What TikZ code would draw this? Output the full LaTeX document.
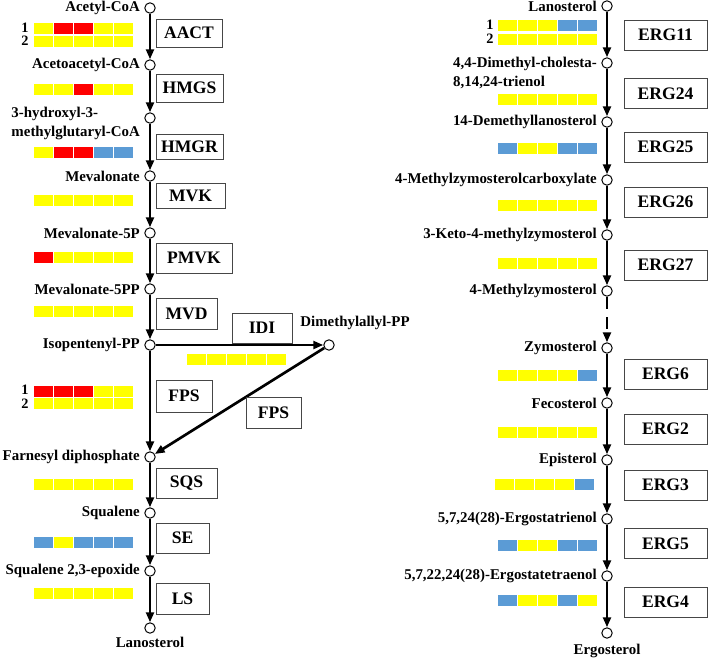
\documentclass[tikz,border=0pt]{standalone}
\usepackage{fontspec}
\setmainfont{Liberation Serif}
\usetikzlibrary{arrows.meta, positioning}
\definecolor{cellyellow}{RGB}{255,255,0}
\definecolor{cellred}{RGB}{255,0,0}
\definecolor{cellblue}{RGB}{91,155,213}
\colorlet{yl}{cellyellow}
\colorlet{rd}{cellred}
\colorlet{bu}{cellblue}
\definecolor{boxgray}{RGB}{70,70,70}

% one row of five expression cells: x, top y, colours
\newcommand{\exprow}[3]{%
  \foreach \c [count=\i] in {#3}
    \filldraw[fill=\c, draw=white, line width=0.4pt] ({#1+(\i-1)*20},#2) rectangle ++(20,12);
}

\begin{document}
\begin{tikzpicture}[
    x=0.025cm, y=-0.025cm,
    metab/.style={circle, draw=black, fill=white, line width=0.7pt, minimum size=0.26cm, inner sep=0pt},
    mlabel/.style={inner sep=1pt, font=\fontsize{10.6}{13.5}\selectfont\bfseries},
    rowno/.style={inner sep=0pt, font=\fontsize{10.2}{12}\selectfont\bfseries},
    enzyme/.style={rectangle, draw=boxgray, line width=0.7pt, fill=white, inner sep=0pt, font=\fontsize{12.5}{15}\selectfont\bfseries},
    ergbox/.style={enzyme, minimum width=2.075cm, minimum height=0.75cm},
    flow/.style={-{Triangle[length=7pt, width=5.5pt]}, line width=1.9pt},
    node distance=2pt
  ]
  \useasboundingbox (0,0) rectangle (709,657);

  % Mevalonate pathway: metabolites
  \node[metab] (acetyl) at (150,8) {};
  \node[metab] (acetoacetyl) at (150,65) {};
  \node[metab] (hmg) at (150,118) {};
  \node[metab] (meva) at (150,176) {};
  \node[metab] (meva5p) at (150,233) {};
  \node[metab] (meva5pp) at (150,289) {};
  \node[metab] (ipp) at (150,345) {};
  \node[metab] (dmapp) at (329,345) {};
  \node[metab] (fpp) at (150,457) {};
  \node[metab] (squalene) at (150,513) {};
  \node[metab] (epoxide) at (150,571) {};
  \node[metab] (lanoL) at (150,628) {};

  \node[mlabel, left=of acetyl] {Acetyl-CoA};
  \node[mlabel, left=of acetoacetyl] {Acetoacetyl-CoA};
  \node[mlabel, align=left, left=of hmg, yshift=-0.13cm] {3-hydroxyl-3-\\methylglutaryl-CoA};
  \node[mlabel, left=of meva] {Mevalonate};
  \node[mlabel, left=of meva5p] {Mevalonate-5P};
  \node[mlabel, left=of meva5pp] {Mevalonate-5PP};
  \node[mlabel, left=of ipp] {Isopentenyl-PP};
  \node[mlabel] (dmappl) at (355,323) {Dimethylallyl-PP};
  \node[mlabel, left=of fpp] {Farnesyl diphosphate};
  \node[mlabel, left=of squalene] {Squalene};
  \node[mlabel, left=of epoxide] {Squalene 2,3-epoxide};
  \node[mlabel, below=1pt of lanoL] {Lanosterol};

  % Mevalonate pathway: reactions
  \draw[flow] (acetyl) -- (acetoacetyl);
  \draw[flow] (acetoacetyl) -- (hmg);
  \draw[flow] (hmg) -- (meva);
  \draw[flow] (meva) -- (meva5p);
  \draw[flow] (meva5p) -- (meva5pp);
  \draw[flow] (meva5pp) -- (ipp);
  \draw[flow] (ipp) -- (dmapp);
  \draw[flow] (ipp) -- (fpp);
  \draw[flow] (dmapp) -- (fpp);
  \draw[flow] (fpp) -- (squalene);
  \draw[flow] (squalene) -- (epoxide);
  \draw[flow] (epoxide) -- (lanoL);

  % Mevalonate pathway: enzymes
  \node[enzyme, minimum width=1.65cm, minimum height=0.7cm] (aact) at (189,33) {AACT};
  \node[enzyme, minimum width=1.675cm, minimum height=0.7cm] (hmgs) at (189.5,88) {HMGS};
  \node[enzyme, minimum width=1.675cm, minimum height=0.625cm] (hmgr) at (189.5,147) {HMGR};
  \node[enzyme, minimum width=1.725cm, minimum height=0.625cm] (mvk) at (190.5,196) {MVK};
  \node[enzyme, minimum width=1.9cm, minimum height=0.75cm] (pmvk) at (194,258) {PMVK};
  \node[enzyme, minimum width=1.525cm, minimum height=0.775cm] (mvd) at (186.5,314) {MVD};
  \node[enzyme, minimum width=1.5cm, minimum height=0.75cm] (idi) at (262,328) {IDI};
  \node[enzyme, minimum width=1.4cm, minimum height=0.8cm] (fpsA) at (184,396) {FPS};
  \node[enzyme, minimum width=1.375cm, minimum height=0.775cm] (fpsB) at (273.5,412.5) {FPS};
  \node[enzyme, minimum width=1.525cm, minimum height=0.75cm] (sqs) at (186.5,483) {SQS};
  \node[enzyme, minimum width=1.325cm, minimum height=0.75cm] (se) at (182.5,538) {SE};
  \node[enzyme, minimum width=1.325cm, minimum height=0.775cm] (ls) at (182.5,598.5) {LS};

  % Mevalonate pathway: expression cells
  \exprow{33}{22}{yl,rd,rd,yl,yl}
  \exprow{33}{35}{yl,yl,yl,yl,yl}
  \node[rowno] at (25,28) {1};
  \node[rowno] at (25,41) {2};
  \exprow{33}{83}{yl,yl,rd,yl,yl}
  \exprow{33}{146}{yl,rd,rd,bu,bu}
  \exprow{33}{194}{yl,yl,yl,yl,yl}
  \exprow{33}{251}{rd,yl,yl,yl,yl}
  \exprow{33}{305}{yl,yl,yl,yl,yl}
  \exprow{186}{353}{yl,yl,yl,yl,yl}
  \exprow{33}{385}{rd,rd,rd,yl,yl}
  \exprow{33}{397}{yl,yl,yl,yl,yl}
  \node[rowno] at (25,390) {1};
  \node[rowno] at (25,404) {2};
  \exprow{33}{478}{yl,yl,yl,yl,yl}
  \exprow{33}{536}{bu,yl,bu,bu,bu}
  \exprow{33}{587}{yl,yl,yl,yl,yl}

  % Ergosterol pathway: metabolites
  \node[metab] (lanoR) at (607,6) {};
  \node[metab] (dimeth) at (607,63) {};
  \node[metab] (demeth) at (607,122) {};
  \node[metab] (carbox) at (607,180) {};
  \node[metab] (keto) at (607,235) {};
  \node[metab] (methzym) at (607,291) {};
  \node[metab] (zymo) at (607,348) {};
  \node[metab] (feco) at (607,403) {};
  \node[metab] (epi) at (607,460) {};
  \node[metab] (ergtri) at (607,519) {};
  \node[metab] (ergtet) at (607,576) {};
  \node[metab] (ergo) at (607,633) {};

  \node[mlabel, left=of lanoR] {Lanosterol};
  \node[mlabel, align=left, left=of dimeth, yshift=-0.25cm] {4,4-Dimethyl-cholesta-\\8,14,24-trienol};
  \node[mlabel, left=of demeth] {14-Demethyllanosterol};
  \node[mlabel, left=of carbox] {4-Methylzymosterolcarboxylate};
  \node[mlabel, left=of keto] {3-Keto-4-methylzymosterol};
  \node[mlabel, left=of methzym] {4-Methylzymosterol};
  \node[mlabel, left=of zymo] {Zymosterol};
  \node[mlabel, left=of feco] {Fecosterol};
  \node[mlabel, left=of epi] {Episterol};
  \node[mlabel, left=of ergtri] {5,7,24(28)-Ergostatrienol};
  \node[mlabel, left=of ergtet] {5,7,22,24(28)-Ergostatetraenol};
  \node[mlabel, below=3pt of ergo] {Ergosterol};

  % Ergosterol pathway: reactions
  \draw[flow] (lanoR) -- (dimeth);
  \draw[flow] (dimeth) -- (demeth);
  \draw[flow] (demeth) -- (carbox);
  \draw[flow] (carbox) -- (keto);
  \draw[flow] (keto) -- (methzym);
  \draw[flow, dash pattern=on 8.5pt off 6pt] (methzym) -- (zymo);
  \draw[flow] (zymo) -- (feco);
  \draw[flow] (feco) -- (epi);
  \draw[flow] (epi) -- (ergtri);
  \draw[flow] (ergtri) -- (ergtet);
  \draw[flow] (ergtet) -- (ergo);

  % Ergosterol pathway: enzymes
  \node[ergbox] (erg11) at (665.5,35) {ERG11};
  \node[ergbox] (erg24) at (665.5,93.5) {ERG24};
  \node[ergbox] (erg25) at (665.5,147) {ERG25};
  \node[ergbox] (erg26) at (665.5,202) {ERG26};
  \node[ergbox] (erg27) at (665.5,265) {ERG27};
  \node[ergbox] (erg6) at (665.5,374) {ERG6};
  \node[ergbox] (erg2) at (665.5,429) {ERG2};
  \node[ergbox] (erg3) at (665.5,485) {ERG3};
  \node[ergbox] (erg5) at (665.5,543.5) {ERG5};
  \node[ergbox] (erg4) at (665.5,602) {ERG4};

  % Ergosterol pathway: expression cells
  \exprow{497}{19}{yl,yl,yl,bu,bu}
  \exprow{497}{33}{yl,yl,yl,yl,yl}
  \node[rowno] at (490,25) {1};
  \node[rowno] at (490,39) {2};
  \exprow{497}{93}{yl,yl,yl,yl,yl}
  \exprow{497}{142}{bu,yl,yl,bu,bu}
  \exprow{497}{199}{yl,yl,yl,yl,yl}
  \exprow{497}{257}{yl,yl,yl,yl,yl}
  \exprow{497}{369}{yl,yl,yl,yl,bu}
  \exprow{497}{426}{yl,yl,yl,yl,yl}
  \exprow{494}{478}{yl,yl,yl,yl,bu}
  \exprow{497}{539}{bu,yl,yl,bu,bu}
  \exprow{497}{594}{bu,yl,yl,bu,yl}
\end{tikzpicture}
\end{document}
